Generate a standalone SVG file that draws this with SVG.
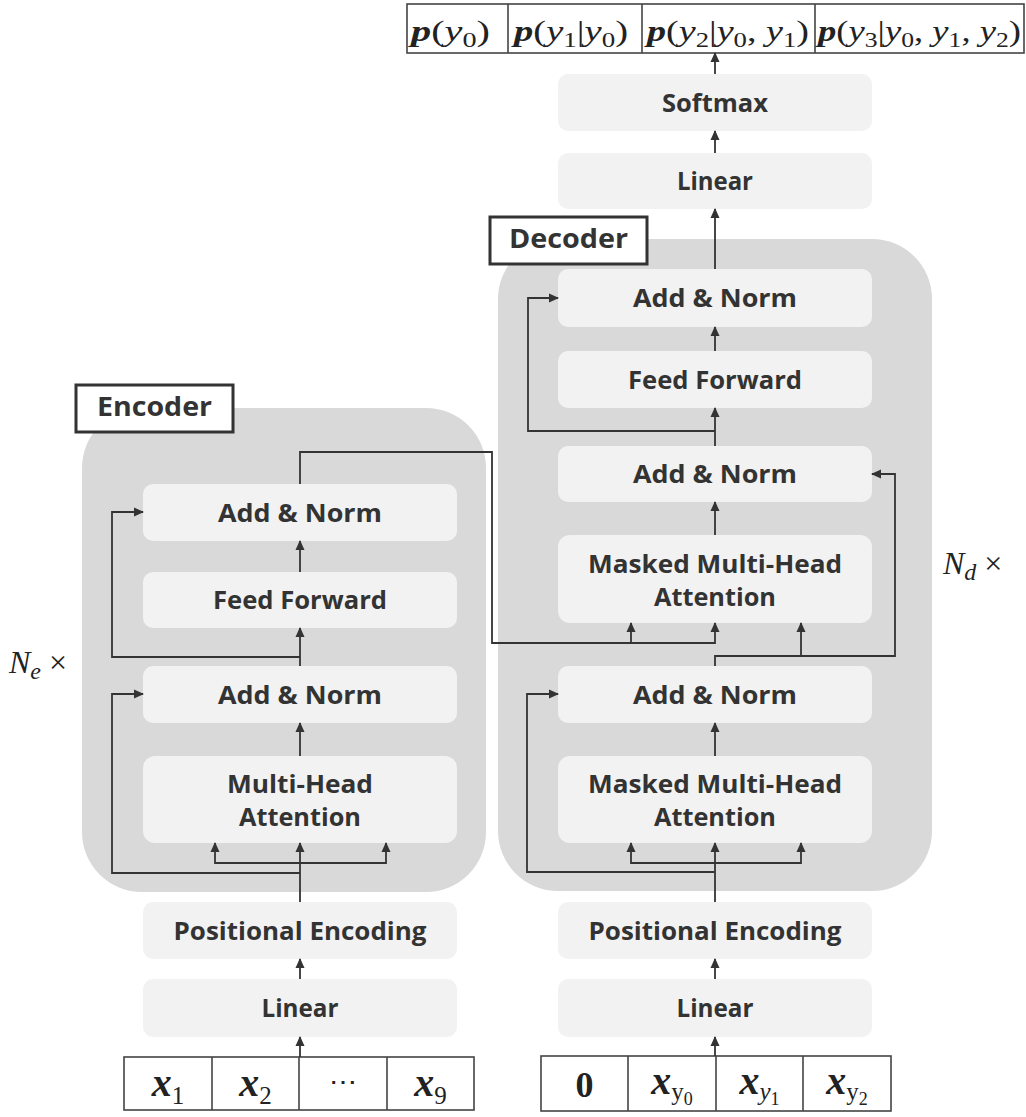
<svg xmlns="http://www.w3.org/2000/svg" width="1026" height="1117" viewBox="0 0 1026 1117">
<style>
.grey{fill:#d9d9d9}
.box{fill:#f2f2f2}
.lbl{fill:#fff;stroke:#333;stroke-width:3}
.t{font-family:"Open Sans","Liberation Sans",sans-serif;font-weight:bold;font-size:25px;fill:#333;text-anchor:middle}
.lt{font-family:"Open Sans","Liberation Sans",sans-serif;font-weight:bold;font-size:27px;fill:#333;text-anchor:middle}
.cell{fill:#fff;stroke:#444;stroke-width:1.6}
.div{stroke:#444;stroke-width:1.6}
.m{font-family:"Liberation Serif",serif;font-size:30px;fill:#222}
.mi{font-family:"Liberation Serif",serif;font-size:40px;fill:#222;text-anchor:middle}
.bi{font-weight:bold;font-style:italic}
.i{font-style:italic}
.s{font-size:21px}
.si{font-size:25px}
.ss{font-size:18px}
.conn path{fill:none;stroke:#333;stroke-width:1.8}
</style>
<defs>
<marker id="ah" markerWidth="10" markerHeight="10" refX="9" refY="5" orient="auto" markerUnits="userSpaceOnUse">
<path d="M0,0.5 L10,5 L0,9.5 z" fill="#333"/>
</marker>
</defs>

<!-- Output row -->
<g id="output">
<rect class="cell" x="407" y="4" width="617" height="49"/>
<line class="div" x1="508" y1="4" x2="508" y2="53"/>
<line class="div" x1="642" y1="4" x2="642" y2="53"/>
<line class="div" x1="815" y1="4" x2="815" y2="53"/>
<text class="m" x="411" y="41" textLength="79" lengthAdjust="spacingAndGlyphs"><tspan class="bi">p</tspan>(<tspan class="i">y</tspan><tspan class="s" dy="6">0</tspan><tspan dy="-6">)</tspan></text>
<text class="m" x="514" y="41" textLength="114" lengthAdjust="spacingAndGlyphs"><tspan class="bi">p</tspan>(<tspan class="i">y</tspan><tspan class="s" dy="6">1</tspan><tspan dy="-6">|</tspan><tspan class="i">y</tspan><tspan class="s" dy="6">0</tspan><tspan dy="-6">)</tspan></text>
<text class="m" x="647" y="41" textLength="162" lengthAdjust="spacingAndGlyphs"><tspan class="bi">p</tspan>(<tspan class="i">y</tspan><tspan class="s" dy="6">2</tspan><tspan dy="-6">|</tspan><tspan class="i">y</tspan><tspan class="s" dy="6">0</tspan><tspan dy="-6">, </tspan><tspan class="i">y</tspan><tspan class="s" dy="6">1</tspan><tspan dy="-6">)</tspan></text>
<text class="m" x="818" y="41" textLength="203" lengthAdjust="spacingAndGlyphs"><tspan class="bi">p</tspan>(<tspan class="i">y</tspan><tspan class="s" dy="6">3</tspan><tspan dy="-6">|</tspan><tspan class="i">y</tspan><tspan class="s" dy="6">0</tspan><tspan dy="-6">, </tspan><tspan class="i">y</tspan><tspan class="s" dy="6">1</tspan><tspan dy="-6">, </tspan><tspan class="i">y</tspan><tspan class="s" dy="6">2</tspan><tspan dy="-6">)</tspan></text>
</g>

<!-- Grey containers -->
<g id="encoder-block">
<rect class="grey" x="82" y="408" width="404" height="484" rx="60"/>
</g>
<g id="decoder-block">
<rect class="grey" x="498" y="239" width="434" height="652" rx="60"/>
</g>

<g id="encoder-label">
<rect class="lbl" x="76" y="385" width="157" height="47"/>
<text class="lt" x="154.5" y="416" textLength="115" lengthAdjust="spacingAndGlyphs">Encoder</text>
</g>
<g id="decoder-label">
<rect class="lbl" x="490" y="217" width="157" height="47"/>
<text class="lt" x="568.5" y="248" textLength="119" lengthAdjust="spacingAndGlyphs">Decoder</text>
</g>

<!-- Decoder top -->
<g id="dec-softmax">
<rect class="box" x="558" y="74" width="314" height="57" rx="10"/>
<text class="t" x="715" y="111.5" textLength="106" lengthAdjust="spacingAndGlyphs">Softmax</text>
</g>
<g id="dec-linear-out">
<rect class="box" x="558" y="153" width="314" height="56" rx="10"/>
<text class="t" x="715" y="190" textLength="76" lengthAdjust="spacingAndGlyphs">Linear</text>
</g>

<!-- Encoder nodes -->
<g id="enc-addnorm2">
<rect class="box" x="143" y="484" width="314" height="57" rx="10"/>
<text class="t" x="300" y="521.5" textLength="164" lengthAdjust="spacingAndGlyphs">Add &amp; Norm</text>
</g>
<g id="enc-ff">
<rect class="box" x="143" y="572" width="314" height="56" rx="10"/>
<text class="t" x="300" y="609" textLength="174" lengthAdjust="spacingAndGlyphs">Feed Forward</text>
</g>
<g id="enc-addnorm1">
<rect class="box" x="143" y="666" width="314" height="57" rx="10"/>
<text class="t" x="300" y="703.5" textLength="164" lengthAdjust="spacingAndGlyphs">Add &amp; Norm</text>
</g>
<g id="enc-mha">
<rect class="box" x="143" y="756" width="314" height="87" rx="12"/>
<text class="t" x="300" y="793" textLength="146" lengthAdjust="spacingAndGlyphs">Multi-Head</text>
<text class="t" x="300" y="826" textLength="122" lengthAdjust="spacingAndGlyphs">Attention</text>
</g>
<g id="enc-pe">
<rect class="box" x="143" y="902" width="314" height="57" rx="10"/>
<text class="t" x="300" y="939.5" textLength="253" lengthAdjust="spacingAndGlyphs">Positional Encoding</text>
</g>
<g id="enc-linear">
<rect class="box" x="143" y="979" width="314" height="58" rx="10"/>
<text class="t" x="300" y="1017" textLength="77" lengthAdjust="spacingAndGlyphs">Linear</text>
</g>

<!-- Decoder nodes -->
<g id="dec-addnorm3">
<rect class="box" x="558" y="269" width="314" height="58" rx="10"/>
<text class="t" x="715" y="307" textLength="164" lengthAdjust="spacingAndGlyphs">Add &amp; Norm</text>
</g>
<g id="dec-ff">
<rect class="box" x="558" y="351" width="314" height="57" rx="10"/>
<text class="t" x="715" y="388.5" textLength="174" lengthAdjust="spacingAndGlyphs">Feed Forward</text>
</g>
<g id="dec-addnorm2">
<rect class="box" x="558" y="446" width="314" height="56" rx="10"/>
<text class="t" x="715" y="483" textLength="164" lengthAdjust="spacingAndGlyphs">Add &amp; Norm</text>
</g>
<g id="dec-mmha2">
<rect class="box" x="558" y="535" width="314" height="88" rx="12"/>
<text class="t" x="715" y="573" textLength="254" lengthAdjust="spacingAndGlyphs">Masked Multi-Head</text>
<text class="t" x="715" y="606" textLength="122" lengthAdjust="spacingAndGlyphs">Attention</text>
</g>
<g id="dec-addnorm1">
<rect class="box" x="558" y="666" width="314" height="57" rx="10"/>
<text class="t" x="715" y="703.5" textLength="164" lengthAdjust="spacingAndGlyphs">Add &amp; Norm</text>
</g>
<g id="dec-mmha1">
<rect class="box" x="558" y="756" width="314" height="87" rx="12"/>
<text class="t" x="715" y="793" textLength="254" lengthAdjust="spacingAndGlyphs">Masked Multi-Head</text>
<text class="t" x="715" y="826" textLength="122" lengthAdjust="spacingAndGlyphs">Attention</text>
</g>
<g id="dec-pe">
<rect class="box" x="558" y="902" width="314" height="57" rx="10"/>
<text class="t" x="715" y="939.5" textLength="253" lengthAdjust="spacingAndGlyphs">Positional Encoding</text>
</g>
<g id="dec-linear">
<rect class="box" x="558" y="979" width="314" height="58" rx="10"/>
<text class="t" x="715" y="1017" textLength="77" lengthAdjust="spacingAndGlyphs">Linear</text>
</g>

<!-- Inputs -->
<g id="enc-input">
<rect class="cell" x="124" y="1057" width="350" height="53"/>
<line class="div" x1="212" y1="1057" x2="212" y2="1110"/>
<line class="div" x1="299" y1="1057" x2="299" y2="1110"/>
<line class="div" x1="387" y1="1057" x2="387" y2="1110"/>
<text class="mi" x="168" y="1096"><tspan class="bi">x</tspan><tspan class="si" dy="8">1</tspan></text>
<text class="mi" x="255.5" y="1096"><tspan class="bi">x</tspan><tspan class="si" dy="8">2</tspan></text>
<text class="mi" x="343" y="1091" style="font-size:28px">⋯</text>
<text class="mi" x="430.5" y="1096"><tspan class="bi">x</tspan><tspan class="si" dy="8">9</tspan></text>
</g>
<g id="dec-input">
<rect class="cell" x="541" y="1056" width="350" height="55"/>
<line class="div" x1="628" y1="1056" x2="628" y2="1111"/>
<line class="div" x1="716" y1="1056" x2="716" y2="1111"/>
<line class="div" x1="803" y1="1056" x2="803" y2="1111"/>
<text class="mi" x="584.5" y="1097" style="font-weight:bold;font-size:36px">0</text>
<text class="mi" x="672" y="1094"><tspan class="bi">x</tspan><tspan class="si" dy="6">y</tspan><tspan class="ss" dy="5">0</tspan></text>
<text class="mi" x="759.5" y="1094"><tspan class="bi">x</tspan><tspan class="si i" dy="6">y</tspan><tspan class="ss" dy="5">1</tspan></text>
<text class="mi" x="847" y="1094"><tspan class="bi">x</tspan><tspan class="si" dy="6">y</tspan><tspan class="ss" dy="5">2</tspan></text>
</g>

<!-- Repetition labels -->
<g id="ne-label">
<text class="m" x="9" y="673" style="font-size:32px"><tspan class="i">N</tspan><tspan class="i" style="font-size:24px" dy="6">e</tspan><tspan dy="-6"> ×</tspan></text>
</g>
<g id="nd-label">
<text class="m" x="943" y="574" style="font-size:32px"><tspan class="i">N</tspan><tspan class="i" style="font-size:24px" dy="6">d</tspan><tspan dy="-6"> ×</tspan></text>
</g>

<!-- Connectors -->
<g id="connectors" class="conn">
<!-- encoder -->
<path d="M300,1057 L300,1037" marker-end="url(#ah)"/>
<path d="M300,979 L300,959" marker-end="url(#ah)"/>
<path d="M300,902 L300,843" marker-end="url(#ah)"/>
<path d="M300,863 L215,863 L215,843" marker-end="url(#ah)"/>
<path d="M300,863 L386,863 L386,843" marker-end="url(#ah)"/>
<path d="M300,873 L112,873 L112,694 L143,694" marker-end="url(#ah)"/>
<path d="M300,756 L300,723" marker-end="url(#ah)"/>
<path d="M300,666 L300,628" marker-end="url(#ah)"/>
<path d="M300,657 L112,657 L112,512 L143,512" marker-end="url(#ah)"/>
<path d="M300,572 L300,541" marker-end="url(#ah)"/>
<path d="M300,484 L300,452 L492,452 L492,643 L631,643 L631,623" marker-end="url(#ah)"/>
<path d="M631,643 L715,643 L715,623" marker-end="url(#ah)"/>
<!-- decoder -->
<path d="M715,1056 L715,1037" marker-end="url(#ah)"/>
<path d="M715,979 L715,959" marker-end="url(#ah)"/>
<path d="M715,902 L715,843" marker-end="url(#ah)"/>
<path d="M715,863 L631,863 L631,843" marker-end="url(#ah)"/>
<path d="M715,863 L801,863 L801,843" marker-end="url(#ah)"/>
<path d="M715,872 L527,872 L527,694 L558,694" marker-end="url(#ah)"/>
<path d="M715,756 L715,723" marker-end="url(#ah)"/>
<path d="M715,666 L715,656 L895,656 L895,474 L872,474" marker-end="url(#ah)"/>
<path d="M801,656 L801,623" marker-end="url(#ah)"/>
<path d="M715,535 L715,502" marker-end="url(#ah)"/>
<path d="M715,446 L715,408" marker-end="url(#ah)"/>
<path d="M715,431 L528,431 L528,298 L558,298" marker-end="url(#ah)"/>
<path d="M715,351 L715,327" marker-end="url(#ah)"/>
<path d="M715,269 L715,209" marker-end="url(#ah)"/>
<path d="M715,153 L715,131" marker-end="url(#ah)"/>
<path d="M715,74 L715,53" marker-end="url(#ah)"/>
</g>
</svg>
